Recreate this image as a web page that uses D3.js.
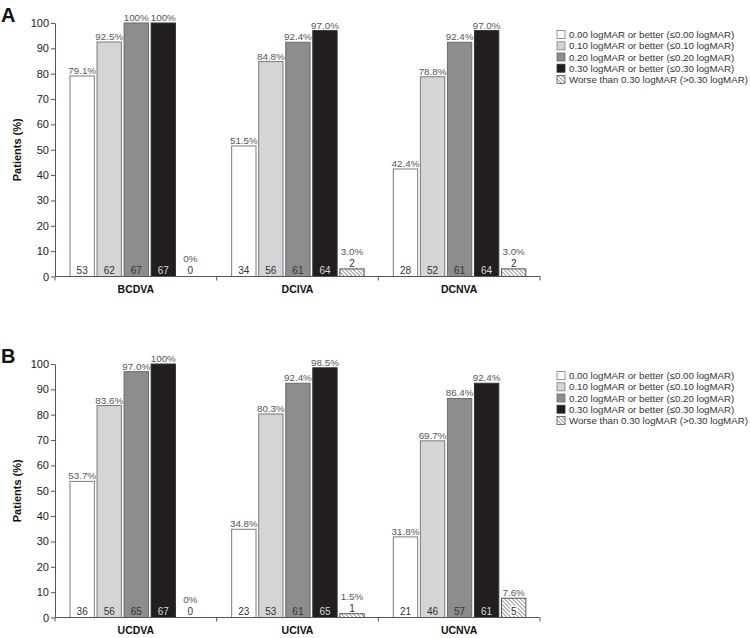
<!DOCTYPE html>
<html>
<head>
<meta charset="utf-8">
<script src="https://cdn.jsdelivr.net/npm/d3@7"></script>
<style>
  body { margin: 0; background: #fff; }
  svg { display: block; font-family: "Liberation Sans", Arial, sans-serif; }
</style>
</head>
<body>
<svg id="chart" width="750" height="638"></svg>
<script>
// ---------- DATA ----------
const seriesNames = [
  "0.00 logMAR or better (\u22640.00 logMAR)",
  "0.10 logMAR or better (\u22640.10 logMAR)",
  "0.20 logMAR or better (\u22640.20 logMAR)",
  "0.30 logMAR or better (\u22640.30 logMAR)",
  "Worse than 0.30 logMAR (>0.30 logMAR)"
];
const panelLetters = ["A", "B"];
const categoriesA = ["BCDVA", "DCIVA", "DCNVA"];
const categoriesB = ["UCDVA", "UCIVA", "UCNVA"];
// percent values per category (series order)
const percentA = [
  [79.1, 92.5, 100, 100, 0],
  [51.5, 84.8, 92.4, 97.0, 3.0],
  [42.4, 78.8, 92.4, 97.0, 3.0]
];
const countsA = [
  [53, 62, 67, 67, 0],
  [34, 56, 61, 64, 2],
  [28, 52, 61, 64, 2]
];
const percentB = [
  [53.7, 83.6, 97.0, 100, 0],
  [34.8, 80.3, 92.4, 98.5, 1.5],
  [31.8, 69.7, 86.4, 92.4, 7.6]
];
const countsB = [
  [36, 56, 65, 67, 0],
  [23, 53, 61, 65, 1],
  [21, 46, 57, 61, 5]
];
const yTicks = [0, 10, 20, 30, 40, 50, 60, 70, 80, 90, 100];
const yTitle = "Patients (%)";

// ---------- STYLE ----------
const fills = ["#ffffff", "#d5d5d7", "#8d8d90", "#221e1f", "url(#hatch)"];
const strokes = ["#7a7a7a", "#7a7a7a", "#6a6a6a", "#333", "#555"];

const svg = d3.select("#chart");
const defs = svg.append("defs");
const pat = defs.append("pattern")
  .attr("id", "hatch").attr("patternUnits", "userSpaceOnUse")
  .attr("width", 2.8).attr("height", 2.8)
  .attr("patternTransform", "rotate(-45)");
pat.append("rect").attr("width", 2.8).attr("height", 2.8).attr("fill", "#fff");
pat.append("line").attr("x1", 0).attr("y1", 0).attr("x2", 0).attr("y2", 2.8)
  .attr("stroke", "#333").attr("stroke-width", 1);

const panels = [
  { letter: panelLetters[0], cats: categoriesA, pct: percentA, cnt: countsA, top: 23 },
  { letter: panelLetters[1], cats: categoriesB, pct: percentB, cnt: countsB, top: 364 }
];

const fmtPct = v => (v === 100 || v === 0) ? v + "%" : v.toFixed(1) + "%";

panels.forEach(p => {
  const g = svg.append("g");
  const y0 = p.top + 253.5;
  const y = d3.scaleLinear().domain([0, 100]).range([y0, p.top]);
  const xg = d3.scaleBand().domain(p.cats).range([55, 540]).padding(0);
  const xs = d3.scaleBand().domain(d3.range(5)).range([15, 147.5]).paddingInner(0.1).paddingOuter(0);

  // panel letter
  g.append("text").attr("x", 1).attr("y", p.top - 1).attr("font-size", 20)
    .attr("font-weight", "bold").attr("fill", "#111").text(p.letter);

  // y axis
  const yAxis = g.append("g").attr("transform", `translate(55,0)`)
    .call(d3.axisLeft(y).tickValues(yTicks).tickSize(4).tickPadding(2).tickSizeOuter(0));
  yAxis.select(".domain").attr("stroke", "#555");
  yAxis.selectAll(".tick line").attr("stroke", "#555");
  yAxis.selectAll(".tick text").attr("font-size", 11).attr("fill", "#222")
    .attr("font-family", '"Liberation Sans", Arial, sans-serif');

  // y title
  g.append("text")
    .attr("transform", `translate(21,${(p.top + y0) / 2}) rotate(-90)`)
    .attr("text-anchor", "middle").attr("font-size", 11).attr("font-weight", "bold")
    .attr("fill", "#111").text(yTitle);

  // bars
  p.cats.forEach((c, ci) => {
    const gx = xg(c);
    p.pct[ci].forEach((v, si) => {
      const bx = gx + xs(si);
      const bw = xs.bandwidth();
      const top = y(v);
      const h = y0 - top;
      if (v > 0) {
        g.append("rect").attr("x", bx).attr("y", top)
          .attr("width", bw).attr("height", h)
          .attr("fill", fills[si]).attr("stroke", strokes[si]).attr("stroke-width", 1);
      }
      const inside = h >= 12;
      const countY = inside ? y0 - 3 : Math.min(y0 - 3, top - 1.5);
      const pctY = inside ? top - 2 : countY - 12;
      const ct = g.append("text").attr("x", bx + bw / 2).attr("y", countY)
        .attr("text-anchor", "middle").attr("font-size", 10)
        .attr("fill", si === 3 ? "#d8d8d8" : "#333").text(p.cnt[ci][si]);
      if (si === 4 && inside) {
        ct.attr("stroke", "#fff").attr("stroke-width", 2.5).attr("paint-order", "stroke");
      }
      g.append("text").attr("x", bx + bw / 2).attr("y", pctY)
        .attr("text-anchor", "middle").attr("font-size", 9.8)
        .attr("fill", "#555").text(fmtPct(v));
    });
    // category label
    g.append("text").attr("x", gx + xg.bandwidth() / 2).attr("y", y0 + 16)
      .attr("text-anchor", "middle").attr("font-size", 10.5).attr("font-weight", "bold")
      .attr("fill", "#111").text(c);
  });

  // x axis line with boundary ticks
  g.append("line").attr("x1", 55).attr("x2", 540).attr("y1", y0).attr("y2", y0)
    .attr("stroke", "#555");
  const bounds = p.cats.map(c => xg(c)).concat([xg.range()[1]]);
  bounds.forEach(bx => {
    g.append("line").attr("x1", bx).attr("x2", bx).attr("y1", y0).attr("y2", y0 + 4)
      .attr("stroke", "#555");
  });

  // legend
  const lg = g.append("g").attr("transform", `translate(557,${p.top + 11.6})`);
  seriesNames.forEach((s, si) => {
    const row = lg.append("g").attr("transform", `translate(0,${si * 11.2})`);
    row.append("rect").attr("x", 0).attr("y", -4).attr("width", 8).attr("height", 8)
      .attr("fill", fills[si]).attr("stroke", strokes[si]).attr("stroke-width", 0.8);
    row.append("text").attr("x", 12).attr("y", 3.5).attr("font-size", 9.7)
      .attr("fill", "#333").text(s);
  });
});
</script>
</body>
</html>
